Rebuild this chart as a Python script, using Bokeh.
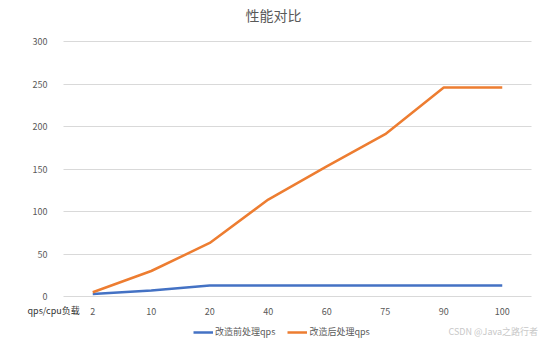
from bokeh.plotting import figure
from bokeh.models import Range1d, Legend, LegendItem, Label, FixedTicker, LinearAxis, Grid
from bokeh.embed import file_html
from bokeh.resources import INLINE

categories = ["2", "10", "20", "40", "60", "75", "90", "100"]
before_qps = [3, 7, 13, 13, 13, 13, 13, 13]
after_qps = [5, 30, 63, 114, 153, 191, 246, 246]
y_ticks = [0, 50, 100, 150, 200, 250, 300]
title_text = "性能对比"
x_title = "qps/cpu负载"
series_names = ["改造前处理qps", "改造后处理qps"]
watermark = "CSDN @Java之路行者"

FONT = "Noto Sans CJK SC"
GREY = "#595959"

W, H = 546, 344
PX_PER_CAT = 58.5
LEFT = 63
PX_PER_Y = 0.85
BOTTOM = 48

xpos = [i + 0.5 for i in range(len(categories))]

p = figure(width=W, height=H, output_backend="svg", toolbar_location=None,
           x_range=Range1d(-LEFT / PX_PER_CAT, (W - LEFT) / PX_PER_CAT),
           y_range=Range1d(-BOTTOM / PX_PER_Y, (H - BOTTOM) / PX_PER_Y),
           min_border=0, x_axis_location=None, y_axis_location=None)
p.outline_line_color = None
p.background_fill_color = "white"
p.border_fill_color = "white"
p.center = [r for r in p.center if not isinstance(r, Grid)]

xaxis = LinearAxis(fixed_location=0,
                   ticker=FixedTicker(ticks=xpos),
                   major_label_overrides={x: c for x, c in zip(xpos, categories)},
                   axis_line_color=None, major_tick_line_color=None, minor_tick_line_color=None,
                   major_label_text_font=FONT, major_label_text_font_size="9px",
                   major_label_text_color=GREY, major_label_standoff=5)
p.add_layout(xaxis, "below")
yaxis = LinearAxis(fixed_location=0,
                   ticker=FixedTicker(ticks=y_ticks),
                   axis_line_color=None, major_tick_line_color=None, minor_tick_line_color=None,
                   major_label_text_font=FONT, major_label_text_font_size="9px",
                   major_label_text_color=GREY, major_label_standoff=10)
p.add_layout(yaxis, "left")
p.add_layout(Grid(dimension=1, ticker=yaxis.ticker, grid_line_color="#d9d9d9",
                  grid_line_width=1, cross_bounds=(0, len(categories))))

r1 = p.line(xpos, before_qps, line_color="#4472c4", line_width=2.5)
r2 = p.line(xpos, after_qps, line_color="#ed7d31", line_width=2.5)

legend = Legend(items=[LegendItem(label=series_names[0], renderers=[r1]),
                       LegendItem(label=series_names[1], renderers=[r2])],
                orientation="horizontal", location=(193, 6),
                label_text_font=FONT, label_text_font_size="9px", label_text_color=GREY,
                glyph_width=20, glyph_height=10, spacing=12, padding=0, margin=0,
                border_line_color=None, background_fill_alpha=0, label_standoff=2)
p.add_layout(legend, "center")

p.add_layout(Label(x=W / 2, y=H - 14, x_units="screen", y_units="screen", text=title_text,
                   text_align="center", text_baseline="middle",
                   text_font=FONT, text_font_size="14px", text_color=GREY))
p.add_layout(Label(x=27, y=H - 310, x_units="screen", y_units="screen", text=x_title,
                   text_baseline="middle",
                   text_font=FONT, text_font_size="9px", text_color="#333333"))
p.add_layout(Label(x=448, y=H - 331, x_units="screen", y_units="screen", text=watermark,
                   text_baseline="middle",
                   text_font=FONT, text_font_size="9px", text_color="#c8c8c8"))

open("out.html", "w").write(file_html(p, INLINE))
